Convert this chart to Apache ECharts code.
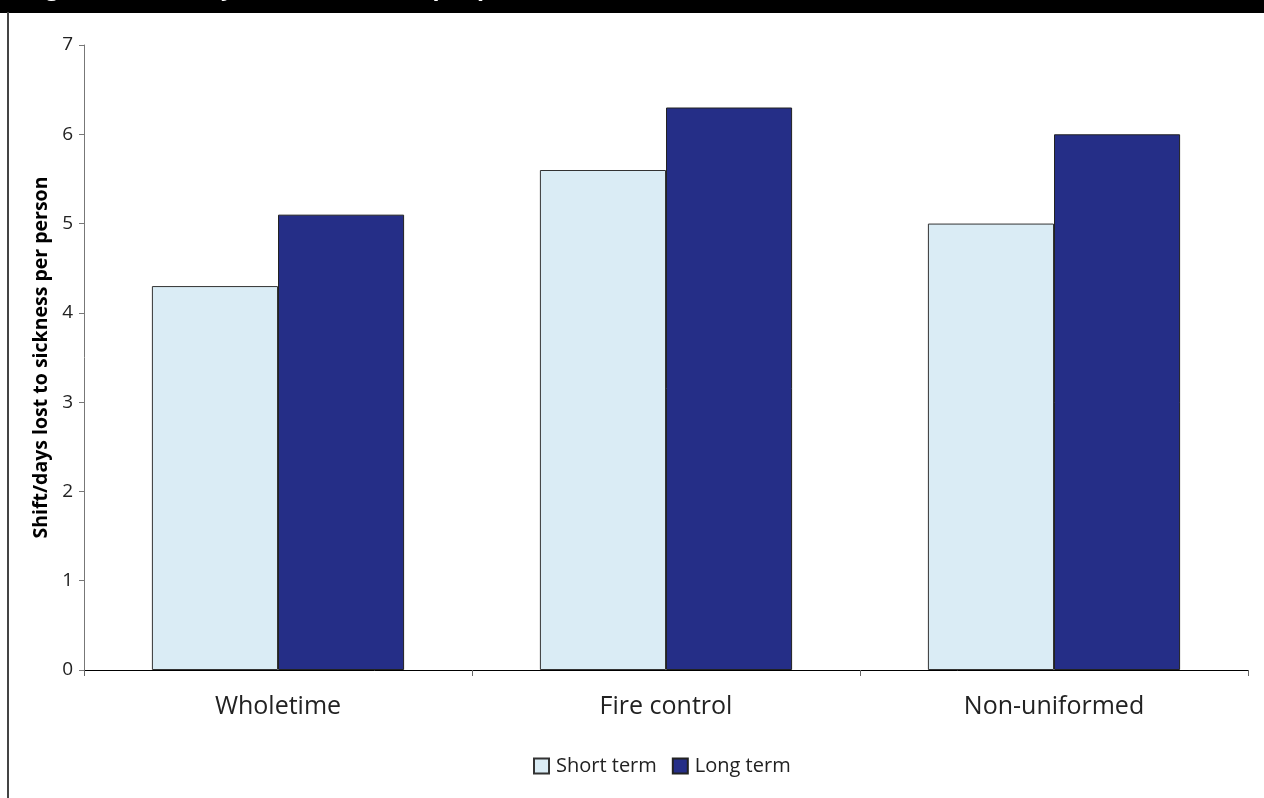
<!DOCTYPE html>
<html>
<head>
<meta charset="utf-8">
<script src="https://cdn.jsdelivr.net/npm/echarts@6/dist/echarts.min.js"></script>
<style>html,body{margin:0;padding:0;background:#fff}#c{width:1264px;height:798px}</style>
</head>
<body>
<div id="c"></div>
<script>
const categories = ['Wholetime', 'Fire control', 'Non-uniformed'];
const shortTerm = [4.3, 5.6, 5.0];
const longTerm = [5.1, 6.3, 6.0];
const seriesNames = ['Short term', 'Long term'];
const yTicks = [0, 1, 2, 3, 4, 5, 6, 7];
const titleText = 'Figure 3: Shift/days lost to sickness per person';
const yAxisName = 'Shift/days lost to sickness per person';

const font = '"Open Sans", "Noto Sans", sans-serif';
const chart = echarts.init(document.getElementById('c'), null, {renderer: 'canvas'});
chart.setOption({
  animation: false,
  backgroundColor: '#fff',
  textStyle: {fontFamily: font},
  graphic: [
    {type: 'rect', shape: {x: 0, y: 0, width: 1264, height: 13}, style: {fill: '#000'}, z: 100},
    {type: 'rect', shape: {x: 7, y: 12, width: 2, height: 786}, style: {fill: '#444'}, z: 100},
    {type: 'text', x: 26, y: 0, z: 101, style: {text: titleText, fill: '#fff', font: 'bold 23px ' + font, verticalAlign: 'bottom'}}
  ],
  grid: {left: 84, right: 16, top: 45, bottom: 128},
  legend: {
    left: 528, top: 751,
    itemWidth: 15, itemHeight: 15, itemGap: 15,
    icon: 'rect',
    textStyle: {fontSize: 20, color: '#222', fontFamily: font, padding: [0, 0, 0, 2]},
    data: seriesNames
  },
  xAxis: {
    type: 'category',
    data: categories,
    axisLine: {lineStyle: {color: '#000', width: 1}},
    axisTick: {show: true, length: 6, lineStyle: {color: '#666'}},
    axisLabel: {fontSize: 25, color: '#222', margin: 24, fontFamily: font},
    splitLine: {show: false}
  },
  yAxis: {
    type: 'value',
    min: 0, max: 7, interval: 1,
    name: yAxisName,
    nameLocation: 'middle',
    nameGap: 33,
    nameTextStyle: {fontSize: 19.5, fontWeight: 'bold', color: '#000', fontFamily: font},
    axisLine: {show: true, lineStyle: {color: '#777', width: 1}},
    axisTick: {show: true, length: 5, lineStyle: {color: '#777'}},
    axisLabel: {fontSize: 19, color: '#222', margin: 11, fontFamily: font,
      formatter: v => yTicks.includes(v) ? String(v) : ''},
    splitLine: {show: false}
  },
  series: [
    {name: seriesNames[0], type: 'bar', data: shortTerm, barGap: '0%', barCategoryGap: '35%',
     itemStyle: {color: '#DAECF5', borderColor: '#333', borderWidth: 1}},
    {name: seriesNames[1], type: 'bar', data: longTerm, barGap: '0%', barCategoryGap: '35%',
     itemStyle: {color: '#252E87', borderColor: '#222', borderWidth: 1}}
  ]
});
</script>
</body>
</html>
